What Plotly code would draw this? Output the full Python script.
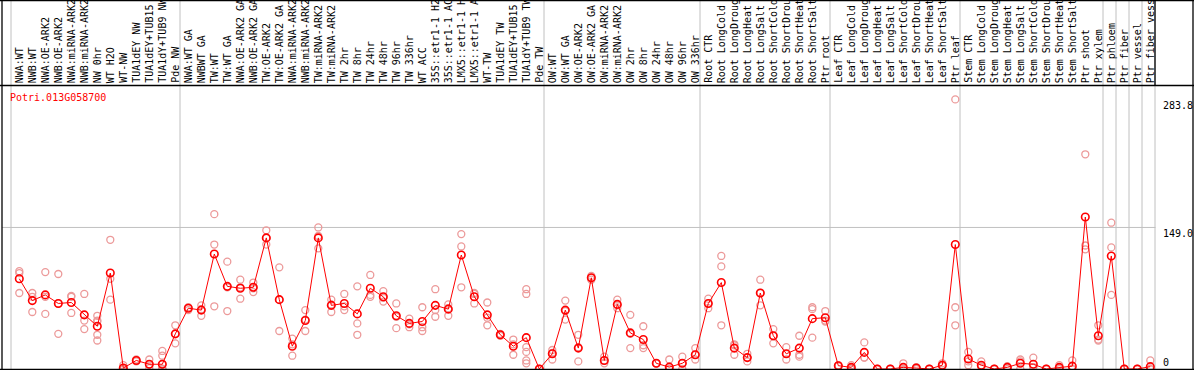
import plotly.graph_objects as go

W, H = 1194, 370

labels = [
    "NWA:WT", "NWB:WT", "NWA:OE-ARK2", "NWB:OE-ARK2", "NWA:miRNA-ARK2", "NWB:miRNA-ARK2",
    "NW 0hr", "WT H2O", "WT-NW", "TUA1dEY NW", "TUA1dEY+TUB15 NW", "TUA1dY+TUB9 NW", "Pde NW",
    "NWA:WT GA", "NWBWT GA", "TW:WT", "TW:WT GA", "NWA:OE-ARK2 GA", "NWB:OE-ARK2 GA",
    "TW:OE-ARK2", "TW:OE-ARK2 GA", "NWA:miRNA-ARK2 GA", "NWB:miRNA-ARK2 GA", "TW:miRNA-ARK2",
    "TW:miRNA-ARK2 GA", "TW 2hr", "TW 8hr", "TW 24hr", "TW 48hr", "TW 96hr", "TW 336hr",
    "WT ACC", "35S::etr1-1 H2O", "35S::etr1-1 ACC", "LMX5::etr1-1 H2O", "LMX5::etr1-1 ACC",
    "WT-TW", "TUA1dEY TW", "TUA1dEY+TUB15 TW", "TUA1dY+TUB9 TW", "Pde TW",
    "OW:WT", "OW:WT GA", "OW:OE-ARK2", "OW:OE-ARK2 GA", "OW:miRNA-ARK2", "OW:miRNA-ARK2 GA",
    "OW 2hr", "OW 8hr", "OW 24hr", "OW 48hr", "OW 96hr", "OW 336hr",
    "Root CTR", "Root LongCold", "Root LongDrought", "Root LongHeat", "Root LongSalt",
    "Root ShortCold", "Root ShortDrought", "Root ShortHeat", "Root ShortSalt", "Ptr root",
    "Leaf CTR", "Leaf LongCold", "Leaf LongDrought", "Leaf LongHeat", "Leaf LongSalt",
    "Leaf ShortCold", "Leaf ShortDrought", "Leaf ShortHeat", "Leaf ShortSalt", "Ptr leaf",
    "Stem CTR", "Stem LongCold", "Stem LongDrought", "Stem LongHeat", "Stem LongSalt",
    "Stem ShortCold", "Stem ShortDrought", "Stem ShortHeat", "Stem ShortSalt", "Ptr shoot",
    "Ptr xylem", "Ptr phloem", "Ptr fiber", "Ptr vessel", "Ptr fiber vessel",
]

group_sizes = [13, 28, 12, 10, 10, 11, 1, 1, 1, 1]

means = [
    95, 72, 78, 69, 70, 57, 45, 101, 1, 9, 5, 5, 37,
    64, 62, 121, 87, 85, 86, 138, 73, 24, 51, 138, 67, 69, 58, 85, 76, 56, 48, 50, 67, 63,
    120, 76, 57, 36, 24, 33, 0,
    16, 62, 22, 96, 9, 68, 38, 31, 6, 2, 6, 15,
    69, 91, 22, 12, 80, 35, 16, 22, 53, 54,
    3.5, 1.7, 17.5, 0, 0, 1.7, 1, 0, 4, 131,
    10.5, 4, 0, 1.7, 6, 5, 0, 1.7, 3, 160, 35,
    119, 0, 0, 2.5,
]

samples = [
    [103, 101, 80], [80, 76, 60], [102, 76, 58], [100, 69, 37], [77, 76, 59], [79, 51, 42],
    [56, 51, 50, 36, 30], [136, 95, 73], [4, 0, 0], [10, 9, 8], [10, 5, 1],
    [19, 14, 5, 0, 0, 0], [46, 37, 27],
    [65, 64, 62], [67, 63, 56], [163, 131, 66], [113, 86, 61], [94, 86, 74], [91, 85, 81],
    [146, 138, 131], [107, 73, 40], [32, 26, 14], [62, 52, 40], [149, 140, 127], [73, 68, 60],
    [79, 66, 62], [87, 48, 36], [99, 78, 76], [82, 75, 71], [69, 55, 43], [53, 47, 44],
    [65, 44, 40], [84, 62, 55], [68, 64, 56], [142, 129, 86], [80, 79, 69], [70, 54, 46],
    [37, 36, 35], [31, 26, 15], [84, 79, 23, 18, 9, 6], [0, 0, 0],
    [20, 17, 10], [72, 61, 52], [36, 23, 8], [98, 96, 94], [13, 9, 6], [73, 67, 64],
    [57, 37, 22], [45, 25, 22], [6, 6, 6], [10, 0, 0], [13, 6, 0], [22, 15, 10],
    [74, 69, 64], [119, 108, 46], [26, 25, 15], [16, 12, 8], [94, 80, 67], [42, 35, 27],
    [23, 16, 10], [35, 15, 13], [65, 63, 33], [61, 51, 50],
    [4, 3, 3], [4, 1, 0], [28, 12, 12], [0, 0, 0], [0, 0, 0], [6, 0, 0], [2, 1, 0],
    [0, 0, 0], [6, 4, 3], [283.8, 65, 46],
    [18, 8, 4], [8, 3, 2], [0, 0, 0], [3, 2, 0], [10, 8, 0], [12, 2, 2], [0, 0, 0],
    [4, 1, 0], [9, 0, 0], [226, 130, 126], [46, 31, 30],
    [154, 128, 78], [0, 0, 0], [0, 0, 0], [9, 0, 0],
]

gene = "Potri.013G058700"
ytick_vals = [283.8, 149.0, 0]
ytick_text = ["283.8", "149.0", "0"]

# ---- pixel geometry helpers ----
X0PX, DX = 19.3, 13.0          # pixel of first column centre, column width
ZERO_PX, PX_PER_UNIT = 369.0, 0.95
x_range = [(0 - X0PX) / DX, (W - X0PX) / DX]
y_range = [(ZERO_PX - H) / PX_PER_UNIT, ZERO_PX / PX_PER_UNIT]
BOUND_OFF = (11 - X0PX) / DX    # group boundary offset in column units


def px(p):
    return p / W


def py(p):
    return 1 - p / H


n = len(labels)
xs = list(range(n))
sx, sy = [], []
for i, vals in enumerate(samples):
    for v in vals:
        sx.append(i)
        sy.append(v)

fig = go.Figure()
fig.add_trace(go.Scatter(
    x=sx, y=sy, mode="markers", hoverinfo="skip",
    marker=dict(symbol="circle-open", size=7, color="#ec9a9a", line=dict(width=1.3)),
))
fig.add_trace(go.Scatter(
    x=xs, y=means, mode="lines+markers",
    line=dict(color="#ff0000", width=1),
    marker=dict(symbol="circle-open", size=7.5, color="#ff0000", line=dict(width=1.6)),
))

shapes = []
gray = "#c0c0c0"
k = 0
bounds = [0]
for g in group_sizes:
    k += g
    bounds.append(k)
for b in bounds:
    xb = b + BOUND_OFF
    shapes.append(dict(type="line", xref="x", yref="paper", x0=xb, x1=xb, y0=0, y1=1,
                       line=dict(color=gray, width=1), layer="below"))
shapes.append(dict(type="line", xref="paper", yref="y", x0=px(2), x1=px(1155.5),
                   y0=ytick_vals[1], y1=ytick_vals[1], line=dict(color=gray, width=1), layer="below"))
blk = dict(color="black", width=1.3)
shapes += [
    dict(type="line", xref="paper", yref="paper", x0=0, x1=1, y0=py(85.5), y1=py(85.5), line=blk),
    dict(type="line", xref="paper", yref="paper", x0=0, x1=1, y0=py(0.5), y1=py(0.5), line=blk),
    dict(type="line", xref="paper", yref="paper", x0=px(2), x1=px(2), y0=0, y1=1, line=blk),
    dict(type="line", xref="paper", yref="paper", x0=px(1193), x1=px(1193), y0=0, y1=1, line=blk),
    dict(type="line", xref="paper", yref="paper", x0=0, x1=1, y0=py(369.5), y1=py(369.5), line=blk),
    dict(type="line", xref="x", yref="paper", x0=88 + BOUND_OFF, x1=88 + BOUND_OFF,
         y0=py(85.5), y1=1, line=blk),
]

annotations = []
mono = "DejaVu Sans Mono"
for i, lab in enumerate(labels):
    annotations.append(dict(
        x=i, y=py(84), xref="x", yref="paper", text=lab, showarrow=False,
        textangle=-90, xanchor="center", yanchor="bottom",
        font=dict(family=mono, size=10, color="black"), borderpad=0,
    ))
annotations.append(dict(
    x=px(9), y=py(91), xref="paper", yref="paper", text=gene, showarrow=False,
    xanchor="left", yanchor="top", font=dict(family=mono, size=10, color="#ff0000"), borderpad=0,
))
for v, t in zip(ytick_vals, ytick_text):
    annotations.append(dict(
        x=px(1162), y=v, xref="paper", yref="y", text=t, showarrow=False,
        xanchor="left", yanchor="bottom" if v == 0 else "top",
        font=dict(family=mono, size=10, color="black"), borderpad=0,
    ))

fig.update_layout(
    width=W, height=H, autosize=False,
    margin=dict(l=0, r=0, t=0, b=0, pad=0),
    paper_bgcolor="white", plot_bgcolor="white",
    showlegend=False,
    xaxis=dict(range=x_range, visible=False, fixedrange=True),
    yaxis=dict(range=y_range, visible=False, fixedrange=True),
    shapes=shapes, annotations=annotations,
)

fig.write_html(
    "out.html",
    config={"displayModeBar": False},
    post_script="document.body.style.margin='0';document.body.style.overflow='hidden';",
)
